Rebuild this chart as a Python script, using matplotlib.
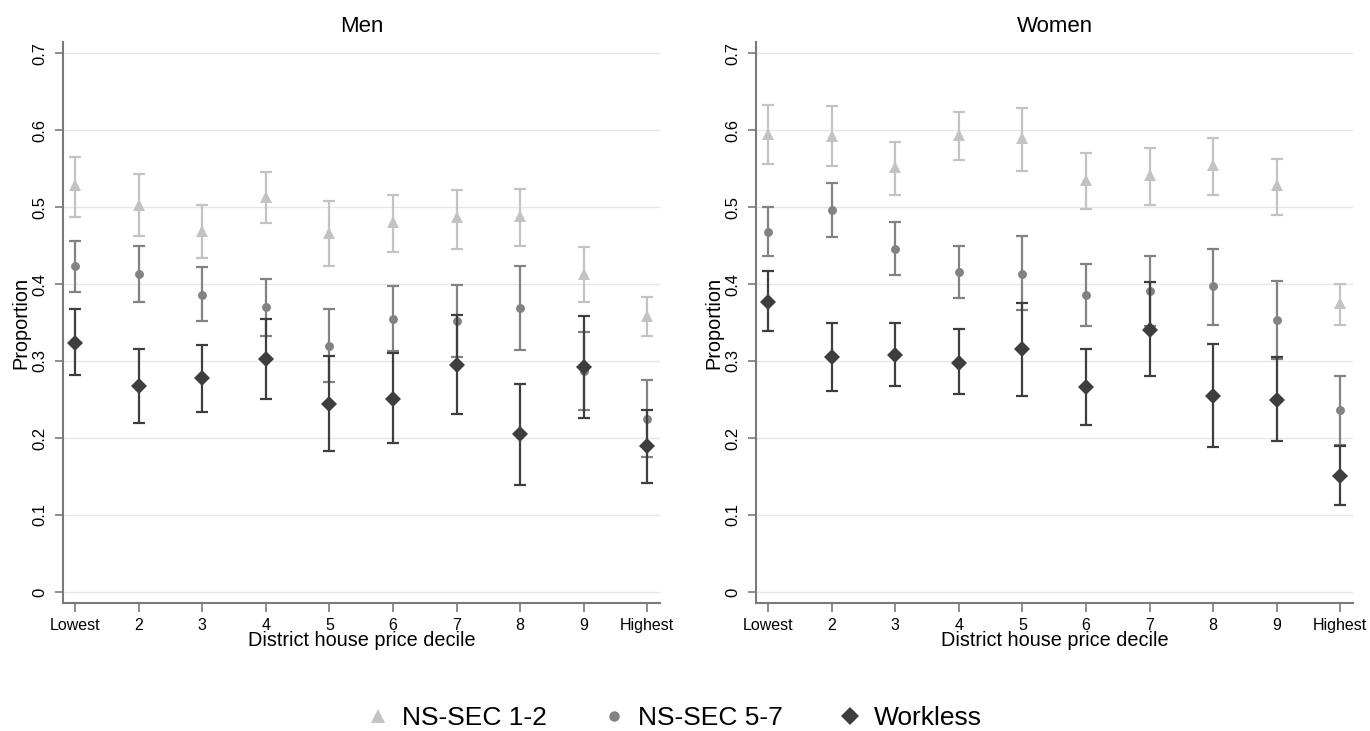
import matplotlib
matplotlib.use("Agg")
import matplotlib.pyplot as plt
from matplotlib.lines import Line2D

plt.rcParams['font.family'] = ['Liberation Sans', 'DejaVu Sans']

deciles = [1, 2, 3, 4, 5, 6, 7, 8, 9, 10]
tick_labels = ["Lowest", "2", "3", "4", "5", "6", "7", "8", "9", "Highest"]
panel_titles = ["Men", "Women"]
series_names = ["NS-SEC 1-2", "NS-SEC 5-7", "Workless"]

# Men
men_ns12 = [0.528, 0.503, 0.469, 0.513, 0.466, 0.480, 0.487, 0.488, 0.413, 0.359]
men_ns12_lo = [0.487, 0.462, 0.434, 0.479, 0.423, 0.441, 0.446, 0.450, 0.377, 0.332]
men_ns12_hi = [0.565, 0.543, 0.503, 0.546, 0.508, 0.515, 0.522, 0.523, 0.448, 0.383]

men_ns57 = [0.423, 0.413, 0.386, 0.370, 0.319, 0.355, 0.352, 0.369, 0.287, 0.225]
men_ns57_lo = [0.390, 0.377, 0.352, 0.333, 0.273, 0.313, 0.305, 0.314, 0.237, 0.175]
men_ns57_hi = [0.456, 0.450, 0.422, 0.406, 0.367, 0.397, 0.399, 0.424, 0.338, 0.275]

men_workless = [0.324, 0.267, 0.278, 0.302, 0.244, 0.250, 0.295, 0.205, 0.292, 0.189]
men_workless_lo = [0.282, 0.219, 0.234, 0.251, 0.183, 0.193, 0.231, 0.139, 0.226, 0.141]
men_workless_hi = [0.368, 0.316, 0.321, 0.354, 0.306, 0.310, 0.360, 0.270, 0.359, 0.237]

# Women
women_ns12 = [0.595, 0.592, 0.552, 0.594, 0.589, 0.535, 0.541, 0.555, 0.528, 0.375]
women_ns12_lo = [0.556, 0.553, 0.516, 0.561, 0.547, 0.498, 0.502, 0.516, 0.490, 0.347]
women_ns12_hi = [0.633, 0.631, 0.584, 0.624, 0.629, 0.570, 0.576, 0.590, 0.562, 0.400]

women_ns57 = [0.468, 0.496, 0.446, 0.415, 0.413, 0.386, 0.391, 0.397, 0.353, 0.236]
women_ns57_lo = [0.437, 0.461, 0.412, 0.382, 0.366, 0.345, 0.346, 0.347, 0.302, 0.191]
women_ns57_hi = [0.500, 0.531, 0.481, 0.449, 0.462, 0.426, 0.436, 0.446, 0.404, 0.281]

women_workless = [0.377, 0.305, 0.308, 0.298, 0.315, 0.266, 0.340, 0.255, 0.249, 0.150]
women_workless_lo = [0.339, 0.261, 0.268, 0.257, 0.255, 0.217, 0.281, 0.188, 0.196, 0.113]
women_workless_hi = [0.417, 0.349, 0.350, 0.341, 0.375, 0.316, 0.403, 0.322, 0.305, 0.189]

yticks = [0, 0.1, 0.2, 0.3, 0.4, 0.5, 0.6, 0.7]
ytick_labels = ["0", "0.1", "0.2", "0.3", "0.4", "0.5", "0.6", "0.7"]

colors = ["#c3c3c3", "#828282", "#3e3e3e"]
markers = ["^", "o", "D"]
msizes = [9.2, 6.4, 8.0]

panels = [
    [(men_ns12, men_ns12_lo, men_ns12_hi),
     (men_ns57, men_ns57_lo, men_ns57_hi),
     (men_workless, men_workless_lo, men_workless_hi)],
    [(women_ns12, women_ns12_lo, women_ns12_hi),
     (women_ns57, women_ns57_lo, women_ns57_hi),
     (women_workless, women_workless_lo, women_workless_hi)],
]

fig = plt.figure(figsize=(13.7, 7.31), dpi=100)
axes_pos = [[63 / 1370, 128 / 731, 597 / 1370, 561 / 731],
            [756 / 1370, 128 / 731, 597 / 1370, 561 / 731]]

spine_col = "#7a7a7a"
for pi, pos in enumerate(axes_pos):
    ax = fig.add_axes(pos)
    for si, (est, lo, hi) in enumerate(panels[pi]):
        yerr = [[e - l for e, l in zip(est, lo)], [h - e for e, h in zip(est, hi)]]
        ax.errorbar(deciles, est, yerr=yerr, fmt="none", ecolor=colors[si],
                    elinewidth=1.6, capsize=4.2, capthick=1.6, zorder=3 + 2 * si)
        ax.plot(deciles, est, linestyle="none", marker=markers[si], color=colors[si],
                markersize=msizes[si], markeredgewidth=0, zorder=4 + 2 * si)
    ax.set_xlim(0.81, 10.2)
    ax.set_ylim(-0.0143, 0.7143)
    ax.set_yticks(yticks)
    ax.set_yticklabels(ytick_labels, rotation=90, va="center", fontsize=12)
    ax.set_xticks(deciles)
    ax.set_xticklabels(tick_labels, fontsize=11.5)
    ax.grid(axis="y", color="#e6e6e6", linewidth=1.0, zorder=0)
    ax.set_axisbelow(True)
    for s in ["top", "right"]:
        ax.spines[s].set_visible(False)
    for s in ["left", "bottom"]:
        ax.spines[s].set_color(spine_col)
        ax.spines[s].set_linewidth(1.5)
    ax.tick_params(axis="y", length=6, width=1.2, color=spine_col, pad=5)
    ax.tick_params(axis="x", length=6.5, width=1.2, color=spine_col, pad=4)
    ax.set_xlabel("District house price decile", fontsize=14.3, labelpad=-1)
    ax.set_ylabel("Proportion", fontsize=14.3, labelpad=2)
    ax.set_title(panel_titles[pi], fontsize=16, pad=7)

handles = [Line2D([], [], linestyle="none", marker=markers[i], color=colors[i],
                  markersize=[10.5, 7.5, 9.5][i], markeredgewidth=0)
           for i in range(3)]
fig.legend(handles, series_names, loc="center", bbox_to_anchor=(672 / 1370, 1 - 718 / 731),
           ncol=3, frameon=False, fontsize=19, handletextpad=0.3, columnspacing=1.95,
           handlelength=1.2)

fig.savefig("out.png", dpi=100)
